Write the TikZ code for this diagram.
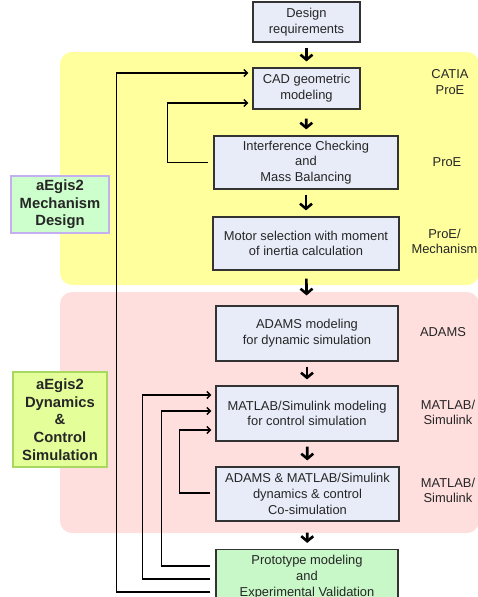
\documentclass[tikz,border=0pt]{standalone}
\usepackage{fontspec}
\setmainfont{Liberation Sans}
\usetikzlibrary{arrows.meta}
\definecolor{designyellow}{HTML}{FFFF9E}
\definecolor{simpink}{HTML}{FFDEDE}
\definecolor{boxblue}{HTML}{E8ECF8}
\definecolor{protogreen}{HTML}{C8F7C8}
\definecolor{mechgreen}{HTML}{CCFFCC}
\definecolor{mechedge}{HTML}{C4B0F0}
\definecolor{dyngreen}{HTML}{E4FF9A}
\definecolor{dynedge}{HTML}{A8D860}
\tikzset{
  procbox/.style = {draw=black!80, line width=1.2pt, fill=boxblue, align=center,
    inner sep=0pt, font=\fontsize{12.9}{15.7}\selectfont, text=black!85},
  sidelabel/.style = {line width=1.2pt, align=center, inner sep=0pt,
    font=\fontsize{14.8}{17.7}\selectfont\bfseries, text=black!85},
  toollabel/.style = {align=center, font=\fontsize{12.9}{15.7}\selectfont, text=black!85},
  flowarrow/.style = {line width=2.6pt, -{Straight Barb[length=5pt,width=12pt]},
    shorten <=5pt, shorten >=6pt},
  loopback/.style = {line width=1.5pt, -{Straight Barb[length=3.5pt,width=7pt]},
    shorten <=5pt, shorten >=4pt}
}

\begin{document}
\begin{tikzpicture}[x=1pt, y=-1pt]
\useasboundingbox (0,0) rectangle (478,597);
% BACKGROUND AREAS
\fill[designyellow, rounded corners=12pt] (60,52) rectangle (479,285);
\fill[simpink, rounded corners=12pt] (60,292) rectangle (479,533);
% PROCESS BOXES
\node[procbox, minimum width=107pt, minimum height=40pt] (req) at (306.5,22) {Design\\requirements};
\node[procbox, minimum width=107pt, minimum height=41pt] (cad) at (306.5,88.5) {CAD geometric\\modeling};
\node[procbox, minimum width=184pt, minimum height=53pt] (interf) at (306,162.5) {Interference Checking\\and\\Mass Balancing};
\node[procbox, minimum width=186pt, minimum height=53pt] (motor) at (306,243.5) {Motor selection with moment\\of inertia calculation};
\node[procbox, minimum width=182pt, minimum height=55pt] (adams) at (307,333.5) {ADAMS modeling\\for dynamic simulation};
\node[procbox, minimum width=182pt, minimum height=55pt] (matlab) at (307,413.5) {MATLAB/Simulink modeling\\for control simulation};
\node[procbox, minimum width=183pt, minimum height=54pt] (cosim) at (307.5,494) {ADAMS \& MATLAB/Simulink\\dynamics \& control\\Co-simulation};
\node[procbox, fill=protogreen, minimum width=182pt, minimum height=55pt] (proto) at (307,577) {Prototype modeling\\and\\Experimental Validation};
% SIDE LABELS
\node[sidelabel, draw=mechedge, fill=mechgreen, minimum width=98pt, minimum height=57pt] (mech) at (60,204.5) {aEgis2\\Mechanism\\Design};
\node[sidelabel, draw=dynedge, fill=dyngreen, minimum width=94pt, minimum height=95pt] (dyn) at (60,419.5) {aEgis2\\Dynamics\\\&\\Control\\Simulation};
% TOOL LABELS
\node[toollabel] (tool-cad) at (450,82) {CATIA\\ProE};
\node[toollabel] (tool-interf) at (447,162) {ProE};
\node[toollabel] (tool-motor) at (444.5,241.5) {ProE/\\Mechanism};
\node[toollabel] (tool-adams) at (443,332) {ADAMS};
\node[toollabel] (tool-matlab) at (448,412.5) {MATLAB/\\Simulink};
\node[toollabel] (tool-cosim) at (448,490.5) {MATLAB/\\Simulink};
% MAIN FLOW
\draw[flowarrow] (req) -- (cad);
\draw[flowarrow, shorten <=9pt] (cad) -- (interf);
\draw[flowarrow] (interf) -- (motor);
\draw[flowarrow, shorten <=8pt, shorten >=10pt] (motor) -- (adams);
\draw[flowarrow] (adams) -- (matlab);
\draw[flowarrow] (matlab) -- (cosim);
\draw[flowarrow, shorten <=11pt] (cosim) -- (proto);
% FEEDBACK LOOPS
\draw[loopback] (interf.west) -- ++(-46,0) |- ([yshift=-14.5pt]cad.west);
\draw[loopback] ([yshift=-15pt]proto.west) -- ++(-99,0) |- ([yshift=15.5pt]cad.west);
\draw[loopback] ([yshift=-2pt]proto.west) -- ++(-73,0) |- ([yshift=18.5pt]matlab.west);
\draw[loopback] ([yshift=11pt]proto.west) -- ++(-54,0) |- ([yshift=2.5pt]matlab.west);
\draw[loopback] ([yshift=1pt]cosim.west) -- ++(-36,0) |- ([yshift=-16.5pt]matlab.west);
\end{tikzpicture}
\end{document}
